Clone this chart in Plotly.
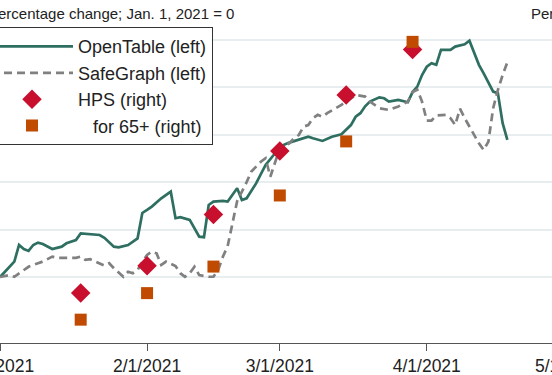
import plotly.graph_objects as go

# ---- data ----
ot_dates = ["2021-01-01","2021-01-04","2021-01-05","2021-01-06","2021-01-07","2021-01-08","2021-01-09","2021-01-10",
            "2021-01-12","2021-01-14","2021-01-15","2021-01-17","2021-01-18","2021-01-20","2021-01-22","2021-01-23",
            "2021-01-25","2021-01-26","2021-01-28","2021-01-30","2021-01-31","2021-02-01","2021-02-02","2021-02-04",
            "2021-02-06","2021-02-07","2021-02-08","2021-02-10","2021-02-12","2021-02-13","2021-02-14","2021-02-15",
            "2021-02-17","2021-02-18","2021-02-20","2021-02-21","2021-02-22","2021-02-24","2021-02-26","2021-02-28",
            "2021-03-01","2021-03-03","2021-03-05","2021-03-07","2021-03-08","2021-03-10","2021-03-12","2021-03-14",
            "2021-03-16","2021-03-17","2021-03-18","2021-03-19","2021-03-20","2021-03-22","2021-03-23","2021-03-24",
            "2021-03-26","2021-03-28","2021-03-29","2021-03-30","2021-03-31","2021-04-01","2021-04-02","2021-04-03",
            "2021-04-04","2021-04-06","2021-04-07","2021-04-09","2021-04-10","2021-04-11","2021-04-12","2021-04-13",
            "2021-04-15","2021-04-16","2021-04-17","2021-04-18"]
opentable = [0, 6.5, 13.5, 11.8, 11.0, 13.5, 14.5, 13.9,
             11.8, 12.8, 14.2, 15.6, 18.4, 18.1, 17.7, 16.5,
             12.8, 12.5, 13.5, 16.3, 27.0, 28.3, 29.7, 33.2,
             36.0, 24.8, 25.2, 24.1, 17.0, 16.8, 30.4, 31.8,
             32.1, 31.8, 37.4, 32.5, 33.2, 39.5, 47.3, 52.2,
             55.0, 56.7, 57.8, 59.2, 58.5, 57.4, 59.2, 60.2,
             64.1, 67.6, 69.1, 72.0, 74.0, 75.8, 75.4, 74.0,
             74.7, 73.7, 78.0, 80.3, 85.2, 88.7, 90.2, 89.5,
             95.8, 95.8, 97.2, 98.2, 99.7, 94.4, 89.5, 85.9,
             78.2, 77.5, 64.9, 57.8]

sg_dates = ["2021-01-01","2021-01-03","2021-01-04","2021-01-06","2021-01-07","2021-01-09","2021-01-10","2021-01-12",
            "2021-01-13","2021-01-15","2021-01-17","2021-01-18","2021-01-19","2021-01-20","2021-01-21","2021-01-23",
            "2021-01-24","2021-01-25","2021-01-27","2021-01-28","2021-01-29","2021-01-30","2021-01-31","2021-02-01",
            "2021-02-02","2021-02-03","2021-02-04","2021-02-05","2021-02-07","2021-02-08","2021-02-09","2021-02-10",
            "2021-02-11","2021-02-12","2021-02-14","2021-02-15","2021-02-16","2021-02-17","2021-02-18","2021-02-19",
            "2021-02-20","2021-02-22","2021-02-23","2021-02-25","2021-02-26","2021-02-27","2021-02-28","2021-03-01",
            "2021-03-03","2021-03-04","2021-03-05","2021-03-06","2021-03-07","2021-03-08","2021-03-09","2021-03-10",
            "2021-03-11","2021-03-13","2021-03-14","2021-03-16","2021-03-17","2021-03-19","2021-03-20","2021-03-22",
            "2021-03-24","2021-03-26","2021-03-28","2021-03-29","2021-03-30","2021-03-31","2021-04-01","2021-04-02",
            "2021-04-03","2021-04-05","2021-04-06","2021-04-07","2021-04-08","2021-04-09","2021-04-11","2021-04-12",
            "2021-04-13","2021-04-14","2021-04-15","2021-04-16","2021-04-17","2021-04-18"]
safegraph = [0, 0.8, 0.1, 3.0, 4.3, 5.8, 6.5, 8.6,
             8.1, 8.1, 8.1, 8.6, 7.2, 7.5, 6.5, 4.8,
             5.8, 3.7, 0.1, 2.2, 1.6, 3.0, 6.3, 9.3,
             10.7, 10.0, 5.1, 6.5, 4.6, 1.6, 0.1, 1.6,
             4.3, 0.8, 0.1, 0.1, 3.0, 8.6, 13.0, 22.0,
             32.0, 40.0, 44.5, 48.6, 50.1, 42.3, 48.0, 54.3,
             56.4, 58.5, 59.9, 63.4, 64.1, 67.0, 68.4, 67.6,
             69.1, 71.2, 72.6, 75.4, 76.8, 76.1, 74.0, 71.2,
             70.5, 71.9, 74.0, 78.0, 79.0, 74.0, 66.0, 66.0,
             68.1, 68.4, 67.0, 64.1, 71.0, 67.0, 59.9, 56.4,
             53.6, 57.1, 71.2, 78.9, 85.2, 90.6]

hps_dates = ["2021-01-18", "2021-02-01", "2021-02-15", "2021-03-01", "2021-03-15", "2021-03-29"]
hps_all = [18.3, 21.2, 26.6, 33.3, 39.2, 44.0]
hps_65 = [15.5, 18.3, 21.1, 28.6, 34.3, 44.8]

left_ticks = [0, 20, 40, 60, 80, 100]

# ---- figure ----
FONT = "Arial, 'Liberation Sans', sans-serif"
W, H = 569, 375

fig = go.Figure()
fig.add_trace(go.Scatter(x=ot_dates, y=opentable, mode="lines", name="OpenTable (left)",
                         line=dict(color="#2E6F61", width=2.7)))
fig.add_trace(go.Scatter(x=sg_dates, y=safegraph, mode="lines", name="SafeGraph (left)",
                         line=dict(color="#808080", width=2.7, dash="8px,5px")))
fig.add_trace(go.Scatter(x=hps_dates, y=hps_all, mode="markers", name="HPS (right)", yaxis="y2",
                         marker=dict(symbol="diamond", size=15, color="#C8102E"), cliponaxis=False))
fig.add_trace(go.Scatter(x=hps_dates, y=hps_65, mode="markers", name="\u00a0\u00a0\u00a0for 65+ (right)", yaxis="y2",
                         marker=dict(symbol="square", size=12, color="#C04B00"), cliponaxis=False))

fig.update_layout(
    template="none",
    width=W, height=H,
    margin=dict(l=0, r=0, t=30, b=32, pad=0, autoexpand=False),
    paper_bgcolor="white", plot_bgcolor="white",
    font=dict(family=FONT, size=17, color="#222222"),
    showlegend=True,
    legend=dict(x=213 / W, xanchor="right", y=1.009, yanchor="top",
                bgcolor="white", bordercolor="#333333", borderwidth=1,
                font=dict(size=18, color="#222222"), itemwidth=82,
                tracegroupgap=0),
    xaxis=dict(type="date", range=["2020-12-31 23:30", "2021-05-01"],
               tick0="2021-01-01", dtick="M1", tickformat="%-m/%-d/%Y",
               ticks="outside", ticklen=7, tickcolor="#555555", tickwidth=1,
               showline=True, linecolor="#555555", linewidth=1.2,
               showgrid=False, zeroline=False, automargin=False,
               ticklabeloverflow="allow", tickfont=dict(size=17.5, color="#222222")),
    yaxis=dict(range=[-27.85, 104.2], tickvals=left_ticks, showgrid=True,
               gridcolor="#E8EEF0", gridwidth=2, zeroline=False, showline=False,
               showticklabels=False, ticks="", automargin=False),
    yaxis2=dict(range=[13.04, 46.05], overlaying="y", side="right", showgrid=False,
                zeroline=False, showline=False, showticklabels=False, ticks="", automargin=False),
    annotations=[
        dict(text="Percentage change; Jan. 1, 2021 = 0", xref="paper", yref="paper",
             x=-14 / W, y=1.054, xanchor="left", yanchor="middle", showarrow=False,
             font=dict(size=15, color="#222222")),
        dict(text="Percent", xref="paper", yref="paper",
             x=529 / W, y=1.054, xanchor="left", yanchor="middle", showarrow=False,
             font=dict(size=15, color="#222222")),
    ],
)

fig.write_html("out.html", config={"displayModeBar": False},
               post_script="document.body.style.margin='0';")
